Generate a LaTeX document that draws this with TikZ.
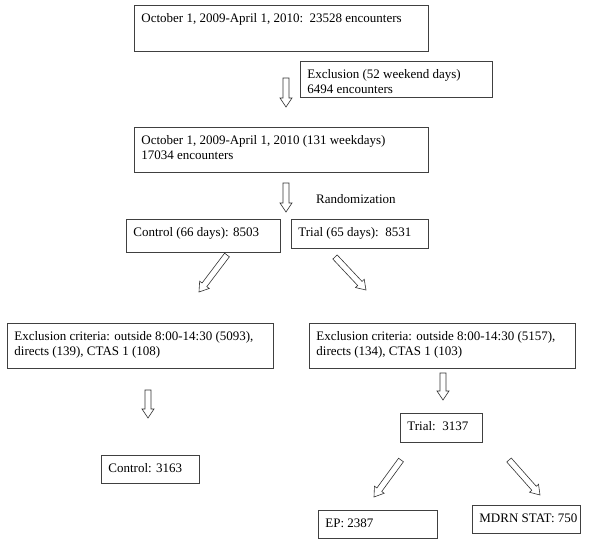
\documentclass[tikz,border=0pt]{standalone}
\usepackage{fontspec}
\setmainfont{Liberation Serif}
\usetikzlibrary{calc}
\tikzset{
  box/.style={draw=black!75, line width=0.8pt, anchor=north west, inner sep=0pt,
    font=\fontsize{13}{15}\selectfont},
  plaintext/.style={inner sep=0pt, font=\fontsize{13}{15}\selectfont},
  blockarrow/.style={draw=black!80, line width=0.6pt, fill=white, line join=miter},
}
\newcommand{\boxtext}[3]{\parbox[c][#2][t]{#1}{\leftskip=7pt\vspace*{6.5pt}\strut #3}}
\newcommand{\barrow}[2]{%
  \path ($(#2)!9pt!(#1)$) coordinate (bah);
  \draw[blockarrow] ($(#1)!3pt!90:(#2)$) -- ($(bah)!3pt!90:(#2)$) -- ($(bah)!6pt!90:(#2)$)
    -- (#2) -- ($(bah)!6pt!-90:(#2)$) -- ($(bah)!3pt!-90:(#2)$) -- ($(#1)!3pt!-90:(#2)$) -- cycle;}
\begin{document}
\begin{tikzpicture}[x=1pt,y=-1pt]
\useasboundingbox (0,0) rectangle (600,543);
% boxes
\node[box] (all) at (134,5) {\boxtext{294pt}{46pt}{October 1, 2009-April 1, 2010:\ \ 23528 encounters}};
\node[box] (wkend) at (300,61) {\boxtext{192pt}{36pt}{Exclusion (52 weekend days)\\6494 encounters}};
\node[box] (wkday) at (134,127) {\boxtext{294pt}{45pt}{October 1, 2009-April 1, 2010 (131 weekdays)\\17034 encounters}};
\node[plaintext, anchor=west] (rand) at (316,199) {Randomization};
\node[box] (ctrl) at (126,219) {\boxtext{154pt}{33pt}{Control (66 days): 8503}};
\node[box] (trial) at (291,219) {\boxtext{137pt}{29pt}{Trial (65 days):\ \ 8531}};
\node[box] (exclL) at (7,323) {\boxtext{266pt}{45pt}{Exclusion criteria: outside 8:00-14:30 (5093),\\directs (139), CTAS 1 (108)}};
\node[box] (exclR) at (309,323) {\boxtext{266pt}{45pt}{Exclusion criteria: outside 8:00-14:30 (5157),\\directs (134), CTAS 1 (103)}};
\node[box] (ctrlF) at (101,455) {\boxtext{98pt}{28pt}{Control: 3163}};
\node[box] (trialF) at (400,413) {\boxtext{82pt}{29pt}{Trial:\ \ 3137}};
\node[box] (ep) at (318,510) {\boxtext{119pt}{28pt}{EP: 2387}};
\node[box] (mdrn) at (472,505) {\boxtext{108pt}{28pt}{MDRN STAT: 750}};
% arrow end points
\coordinate (a1s) at (286,78);  \coordinate (a1e) at (286,107);
\coordinate (a2s) at (286,183); \coordinate (a2e) at (286,212);
\coordinate (a3s) at (227,255); \coordinate (a3e) at (199,292);
\coordinate (a4s) at (335,257); \coordinate (a4e) at (366,290);
\coordinate (a5s) at (443,373); \coordinate (a5e) at (443,400);
\coordinate (a6s) at (148,390); \coordinate (a6e) at (148,418);
\coordinate (a7s) at (401,460); \coordinate (a7e) at (374,497);
\coordinate (a8s) at (509,460); \coordinate (a8e) at (540,495);
\barrow{a1s}{a1e}
\barrow{a2s}{a2e}
\barrow{a3s}{a3e}
\barrow{a4s}{a4e}
\barrow{a5s}{a5e}
\barrow{a6s}{a6e}
\barrow{a7s}{a7e}
\barrow{a8s}{a8e}
\end{tikzpicture}
\end{document}
